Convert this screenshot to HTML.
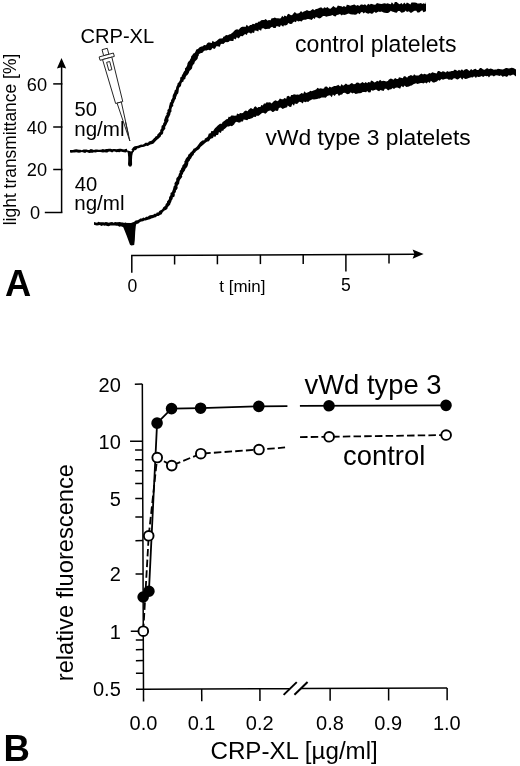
<!DOCTYPE html>
<html><head><meta charset="utf-8"><title>Figure</title>
<style>
html,body{margin:0;padding:0;background:#fff;}
svg{display:block;font-family:"Liberation Sans",Arial,Helvetica,sans-serif;fill:#000;}
</style></head><body>
<svg width="520" height="766" viewBox="0 0 520 766">
<rect width="520" height="766" fill="#fff"/>
<g fill="#000" stroke="none"><path d="M70.0,150.0 L71.7,150.0 L73.0,149.9 L74.6,149.5 L76.3,149.3 L77.5,149.5 L79.0,149.8 L80.2,149.7 L81.9,150.3 L83.5,149.5 L85.1,149.5 L86.7,149.5 L87.9,149.9 L89.2,149.9 L90.8,149.1 L92.7,149.6 L93.8,150.0 L95.5,149.6 L97.2,149.6 L98.2,149.7 L100.0,149.7 L101.7,149.6 L102.8,149.1 L104.5,149.4 L106.2,149.1 L107.2,149.1 L109.0,148.8 L110.6,148.8 L112.1,149.2 L113.4,148.9 L114.8,148.9 L116.5,149.2 L117.9,149.1 L119.5,148.8 L120.9,148.8 L122.7,149.2 L124.2,149.6 L125.5,149.1 L127.1,148.8 L126.9,151.9 L125.3,152.5 L124.1,152.2 L122.6,152.0 L120.9,151.4 L119.5,152.3 L117.9,152.1 L116.5,152.3 L114.8,151.5 L113.5,151.6 L112.1,152.4 L110.7,151.8 L109.0,151.6 L107.3,152.5 L106.3,152.6 L104.6,152.2 L102.9,152.6 L101.8,152.2 L100.1,151.9 L98.2,152.1 L97.3,151.9 L95.5,152.6 L93.8,152.2 L92.8,152.8 L90.9,152.8 L89.3,152.9 L87.9,152.6 L86.7,152.0 L85.1,153.0 L83.5,152.5 L81.9,152.1 L80.3,152.4 L79.0,152.7 L77.5,152.5 L76.3,152.2 L74.6,152.5 L73.0,152.5 L71.7,152.8 L70.0,152.5Z"/><path d="M131.4,149.7 L132.3,148.4 L133.2,147.3 L134.7,146.3 L136.6,146.0 L138.0,145.7 L139.7,144.9 L141.2,144.5 L142.3,144.7 L144.0,143.9 L145.4,142.8 L147.0,142.7 L148.0,142.8 L148.9,141.6 L150.6,141.0 L152.0,140.5 L152.6,139.7 L153.7,138.6 L154.9,137.5 L155.7,136.3 L157.0,136.1 L157.5,134.3 L158.7,133.3 L159.5,132.3 L160.3,131.4 L160.2,129.9 L161.3,128.7 L161.5,126.8 L161.7,125.8 L163.0,124.7 L163.3,123.0 L164.3,121.9 L164.0,120.2 L164.5,118.9 L165.1,117.2 L165.7,115.7 L166.7,114.7 L166.4,113.2 L167.5,111.9 L167.4,110.1 L168.7,108.7 L168.9,107.2 L169.1,106.1 L169.5,104.8 L169.9,102.8 L171.1,101.6 L171.0,100.2 L172.0,98.8 L172.6,97.4 L172.6,95.9 L173.2,94.3 L173.7,93.5 L174.4,92.0 L174.6,90.5 L175.8,89.4 L176.2,87.4 L176.5,86.5 L177.4,84.8 L177.5,83.5 L178.8,82.2 L179.6,80.9 L180.2,79.6 L180.2,77.6 L181.6,76.7 L181.9,75.3 L182.9,73.8 L183.3,72.8 L184.0,71.4 L185.1,70.2 L184.9,68.4 L186.0,67.4 L187.0,65.7 L187.4,64.3 L187.5,63.2 L188.3,61.7 L189.5,60.8 L190.2,59.3 L191.0,58.1 L191.2,56.3 L192.5,55.0 L193.0,53.8 L194.6,52.9 L195.5,51.5 L196.3,49.6 L197.9,48.9 L199.6,47.3 L201.4,46.5 L202.9,46.3 L204.0,45.1 L206.0,45.3 L207.0,43.4 L208.2,42.6 L209.5,42.6 L211.8,43.0 L212.5,40.7 L214.3,41.9 L215.8,41.4 L216.8,40.8 L218.5,39.3 L219.7,38.6 L221.1,38.4 L222.8,38.2 L223.3,36.7 L224.9,36.2 L225.9,34.9 L228.0,35.3 L229.0,34.6 L230.9,34.0 L231.9,33.1 L233.1,32.2 L234.0,30.9 L235.5,29.7 L237.0,29.2 L238.8,29.8 L239.7,28.5 L241.1,27.2 L242.2,26.8 L244.3,26.8 L245.8,26.8 L246.5,24.8 L248.8,26.4 L250.0,25.0 L251.4,25.1 L252.9,23.8 L254.4,24.2 L255.9,22.8 L257.4,23.0 L258.2,21.7 L260.0,21.5 L261.1,20.2 L262.9,20.0 L264.3,20.0 L265.6,18.9 L267.8,20.8 L268.7,20.1 L270.6,20.3 L271.6,18.3 L273.0,18.2 L274.8,17.6 L276.4,18.2 L278.1,18.3 L279.5,18.6 L280.8,18.3 L282.2,15.7 L283.5,17.2 L284.5,15.5 L286.7,16.4 L287.3,14.7 L288.6,13.8 L291.0,15.2 L292.2,15.0 L293.6,13.2 L294.8,12.0 L296.5,13.5 L297.9,13.5 L299.4,12.9 L301.0,10.9 L302.5,12.4 L303.7,11.4 L305.3,11.1 L307.0,10.0 L308.2,10.8 L310.1,11.1 L311.1,10.2 L312.9,8.9 L314.4,10.2 L315.5,9.2 L317.5,8.7 L318.6,8.2 L320.2,7.6 L321.6,7.5 L323.0,8.8 L324.3,7.2 L326.0,7.9 L327.4,7.0 L329.0,8.6 L330.5,8.7 L332.4,6.9 L333.3,5.9 L335.2,7.5 L336.5,7.8 L337.9,5.6 L339.7,6.0 L341.4,6.3 L342.7,7.1 L343.8,6.1 L346.0,6.9 L346.8,4.7 L348.5,5.1 L350.2,5.8 L351.8,5.3 L353.3,4.7 L354.6,4.6 L356.1,5.7 L357.8,5.1 L359.4,5.9 L360.8,4.6 L362.2,4.6 L363.4,5.1 L365.0,4.3 L366.7,5.8 L368.1,3.7 L369.8,4.8 L370.9,3.8 L372.7,4.3 L374.1,4.7 L375.8,4.6 L376.9,3.0 L378.6,3.4 L379.9,3.8 L381.5,4.0 L383.4,3.4 L384.5,3.3 L386.4,3.7 L387.6,3.3 L388.9,3.7 L390.8,4.2 L391.8,2.2 L393.9,4.5 L394.8,2.1 L396.7,2.0 L398.0,3.3 L399.6,4.3 L401.5,2.9 L402.7,4.5 L404.3,2.5 L405.8,4.2 L406.9,2.6 L408.9,3.6 L410.4,4.5 L411.5,2.4 L413.2,2.4 L414.6,2.4 L416.3,2.8 L417.4,3.6 L419.2,3.5 L420.9,3.1 L422.3,4.0 L423.4,3.2 L425.4,4.1 L426.0,2.1 L426.0,11.1 L425.4,11.4 L423.4,12.3 L422.3,10.2 L420.9,10.9 L419.2,12.5 L417.4,12.5 L416.3,10.8 L414.6,10.7 L413.2,11.4 L411.5,12.8 L410.4,12.8 L408.9,11.2 L406.9,11.9 L405.8,10.4 L404.3,12.1 L402.7,12.4 L401.5,12.7 L399.6,11.0 L398.0,10.9 L396.8,12.8 L394.9,12.4 L393.9,12.0 L391.9,11.4 L390.9,10.7 L389.0,12.4 L387.8,12.9 L386.5,12.9 L384.7,12.7 L383.5,12.5 L381.6,11.4 L380.0,12.1 L378.7,11.4 L377.1,12.3 L376.0,13.1 L374.2,11.8 L372.9,13.6 L371.2,13.7 L370.0,13.0 L368.3,13.7 L366.8,13.2 L365.1,12.2 L363.6,13.4 L362.4,12.1 L361.0,12.2 L359.6,14.2 L358.0,13.0 L356.4,14.6 L355.0,14.8 L353.6,14.5 L352.2,14.6 L350.4,14.3 L348.8,13.6 L347.1,14.0 L346.2,14.4 L344.1,15.0 L342.9,14.5 L341.7,15.4 L340.0,14.1 L338.2,14.7 L336.7,15.1 L335.6,16.5 L333.8,16.0 L332.6,14.9 L330.7,15.7 L329.2,16.1 L327.8,16.3 L326.4,16.8 L324.7,16.1 L323.2,16.1 L322.1,16.8 L320.8,18.1 L319.1,18.4 L317.9,17.7 L315.7,17.0 L314.8,19.1 L313.4,17.9 L311.7,19.9 L310.5,19.4 L308.5,19.0 L307.5,19.0 L305.7,19.7 L304.1,19.8 L302.8,19.9 L301.9,21.5 L299.9,21.0 L298.3,21.4 L296.8,20.6 L295.9,22.3 L294.3,21.5 L292.8,22.5 L292.1,23.8 L290.2,23.9 L288.2,23.1 L287.3,24.7 L285.5,25.6 L283.9,25.3 L283.2,26.7 L280.9,25.1 L279.9,27.0 L278.4,26.4 L276.6,26.0 L275.6,28.1 L273.6,27.9 L272.1,26.7 L270.8,27.4 L269.3,29.0 L268.3,28.8 L266.6,29.0 L265.2,29.3 L263.5,28.2 L261.8,28.5 L261.1,30.8 L258.8,29.5 L258.3,31.5 L256.6,30.8 L254.7,30.5 L254.1,32.9 L252.1,32.5 L251.1,33.7 L249.0,32.4 L247.6,33.1 L246.9,34.9 L245.1,34.0 L243.6,35.3 L242.8,36.3 L240.7,35.9 L239.8,36.9 L238.9,38.4 L236.7,37.3 L235.7,39.4 L233.9,38.6 L233.4,41.0 L232.1,41.1 L229.8,40.8 L228.9,41.7 L227.2,42.2 L225.6,42.1 L224.4,43.1 L223.5,43.9 L221.7,43.7 L220.5,44.5 L219.9,46.7 L217.5,46.2 L216.3,46.3 L215.3,48.2 L214.3,48.9 L212.4,48.0 L211.1,50.1 L209.8,50.2 L208.1,49.8 L206.7,50.4 L205.0,50.6 L203.9,51.0 L203.1,52.0 L202.1,52.9 L200.6,53.1 L200.4,53.6 L198.9,54.0 L198.8,55.5 L197.9,56.8 L197.8,58.2 L197.0,59.6 L195.7,60.7 L194.8,61.8 L194.4,63.5 L193.4,64.5 L192.4,65.9 L192.3,67.1 L192.0,68.6 L190.6,70.0 L189.4,70.9 L189.0,72.4 L188.3,73.8 L187.4,75.1 L186.3,75.8 L185.5,77.4 L185.3,78.9 L183.7,79.7 L183.5,81.5 L182.0,82.2 L181.4,83.5 L181.1,85.3 L180.8,86.3 L179.3,87.6 L178.9,88.5 L178.7,90.5 L178.5,91.9 L178.1,93.4 L176.9,94.7 L176.7,95.7 L176.0,97.2 L176.0,98.6 L174.9,99.9 L174.4,101.5 L174.0,102.6 L173.1,104.0 L173.3,106.1 L172.1,107.1 L171.8,108.1 L171.4,109.6 L171.5,111.4 L170.5,112.8 L170.3,114.4 L169.7,115.7 L169.1,116.9 L168.3,118.4 L168.6,120.4 L168.0,121.7 L167.2,123.1 L166.7,124.3 L165.9,125.8 L165.1,127.1 L165.4,128.4 L164.3,129.9 L163.3,131.3 L163.2,133.0 L162.6,134.3 L161.2,135.1 L160.6,136.7 L159.1,137.9 L158.4,138.8 L157.0,139.8 L155.8,141.1 L154.6,142.2 L153.9,143.3 L152.5,144.1 L150.4,144.6 L149.0,145.3 L147.9,145.9 L146.2,145.8 L144.7,146.5 L143.0,147.1 L141.9,147.1 L140.4,147.6 L138.7,148.2 L137.5,148.3 L136.5,149.6 L135.4,150.2 L134.1,150.3 L133.5,151.9Z"/><path d="M94.0,222.0 L95.7,222.5 L97.0,222.7 L98.6,221.8 L99.8,222.3 L101.5,222.2 L103.2,222.2 L104.4,222.5 L105.8,221.9 L107.2,222.3 L108.8,222.7 L110.4,222.3 L112.2,222.0 L113.5,222.7 L115.1,222.1 L116.4,222.3 L118.0,222.2 L119.7,222.0 L121.3,222.6 L122.5,222.4 L124.1,223.1 L125.9,222.4 L126.3,222.9 L125.7,227.5 L125.2,227.4 L123.6,227.0 L122.0,226.8 L121.0,226.2 L119.4,226.7 L117.8,225.7 L116.3,225.7 L115.0,225.5 L113.4,225.6 L112.2,225.6 L110.3,225.6 L108.8,226.3 L107.2,226.1 L105.7,225.6 L104.3,225.8 L103.1,225.3 L101.5,226.1 L99.7,225.1 L98.6,225.2 L97.0,225.5 L95.7,225.3 L94.0,224.8Z"/><path d="M134.5,221.3 L135.8,220.6 L137.5,220.2 L139.0,219.4 L140.3,218.4 L142.0,218.4 L143.3,217.5 L144.7,217.9 L146.1,216.8 L147.8,216.7 L148.9,215.7 L150.1,215.3 L152.0,214.9 L153.3,214.8 L154.4,213.7 L156.1,213.8 L156.8,212.4 L158.4,212.5 L159.3,211.0 L160.6,210.3 L161.7,209.7 L162.6,208.8 L163.3,207.2 L164.4,206.4 L165.4,205.4 L165.7,204.0 L167.0,202.8 L167.0,201.5 L167.9,200.4 L169.0,198.9 L169.1,197.2 L169.7,196.2 L170.5,195.0 L170.5,193.1 L172.0,192.0 L172.3,190.9 L172.9,189.4 L173.3,188.1 L173.7,186.3 L174.7,185.2 L174.4,183.6 L175.2,182.1 L176.2,181.0 L176.2,179.6 L176.5,177.9 L178.0,176.6 L178.6,175.3 L178.8,173.9 L179.8,172.5 L179.6,171.1 L180.8,169.8 L181.3,168.1 L182.1,167.3 L182.5,165.2 L183.6,164.2 L184.5,163.1 L184.3,161.6 L185.1,160.5 L185.6,159.0 L186.7,157.4 L187.8,156.4 L188.4,154.6 L189.5,153.8 L190.7,152.3 L192.0,151.3 L192.9,150.1 L193.5,148.8 L194.9,148.2 L195.9,147.5 L197.0,146.6 L198.1,144.9 L199.0,143.7 L200.1,142.2 L201.1,141.4 L202.3,140.6 L204.3,140.2 L204.9,138.4 L206.0,138.0 L207.7,136.8 L208.3,135.3 L208.7,133.8 L210.8,133.1 L211.0,131.3 L213.2,131.1 L214.2,129.2 L215.2,128.1 L216.1,127.3 L217.5,125.8 L218.4,125.1 L220.0,123.7 L221.9,123.8 L222.6,122.1 L223.5,121.4 L224.9,120.5 L226.3,119.3 L227.8,119.1 L228.6,116.7 L230.1,116.9 L231.2,115.6 L232.7,115.4 L234.7,115.7 L236.5,115.4 L237.0,113.6 L239.2,114.3 L239.9,112.9 L242.0,113.2 L243.2,112.7 L244.1,111.4 L245.8,110.6 L247.7,111.3 L248.4,110.0 L249.6,108.9 L250.9,107.9 L253.1,109.2 L254.3,107.0 L255.5,106.2 L257.4,108.1 L258.4,107.0 L260.4,106.9 L261.3,105.0 L262.8,105.4 L264.0,103.4 L265.8,103.5 L266.5,102.3 L268.3,102.5 L270.1,102.2 L271.6,103.4 L272.8,102.3 L274.0,100.9 L275.8,100.3 L277.2,101.2 L278.5,100.5 L279.9,98.5 L281.7,99.2 L283.3,99.2 L284.3,97.9 L286.3,98.7 L286.8,96.6 L288.3,95.8 L290.2,96.9 L291.2,94.9 L292.6,95.0 L294.0,94.3 L296.2,94.8 L297.3,94.6 L299.0,94.8 L300.6,93.8 L301.5,92.9 L303.3,93.7 L304.4,91.3 L306.0,92.9 L307.5,92.6 L309.2,91.7 L310.4,90.8 L311.8,91.2 L313.4,90.6 L315.0,89.9 L316.4,89.2 L317.5,87.8 L319.1,88.7 L320.9,88.3 L322.2,88.8 L324.0,88.5 L324.8,86.7 L326.8,86.6 L328.5,88.2 L329.6,86.6 L331.2,87.6 L332.7,86.7 L334.2,86.0 L335.6,85.9 L337.2,85.6 L338.2,84.8 L340.2,86.4 L341.6,84.1 L343.1,85.7 L344.8,84.6 L345.9,83.5 L347.5,84.7 L349.3,84.7 L350.5,83.8 L351.9,82.9 L353.7,84.3 L355.3,83.9 L356.3,82.8 L358.1,82.4 L359.6,83.4 L360.9,83.2 L362.3,82.1 L364.3,83.3 L365.7,82.0 L367.1,83.3 L368.3,81.9 L370.3,82.6 L371.0,80.6 L372.6,81.0 L374.5,82.4 L376.0,81.7 L377.0,80.7 L378.7,81.4 L380.0,79.7 L381.8,81.2 L383.2,80.8 L384.7,81.0 L386.2,81.5 L387.8,81.1 L389.0,79.4 L390.8,78.5 L392.1,78.9 L393.5,79.8 L395.1,78.1 L396.8,78.9 L398.1,79.1 L399.0,77.2 L401.0,77.8 L402.7,78.2 L403.9,76.2 L405.3,76.2 L407.1,77.8 L408.2,76.3 L409.6,75.8 L410.9,75.0 L413.0,75.9 L414.1,74.2 L415.7,75.5 L417.1,75.4 L418.7,75.5 L420.3,74.2 L421.4,73.6 L423.0,74.5 L424.6,73.7 L426.2,74.5 L427.9,74.2 L429.1,73.0 L430.7,73.5 L432.3,72.2 L433.8,72.7 L434.9,72.9 L436.6,73.6 L437.9,71.1 L439.2,71.1 L441.3,72.2 L442.7,71.2 L444.0,71.4 L445.9,72.6 L447.1,70.9 L448.5,71.7 L450.2,71.6 L451.7,71.1 L453.2,71.0 L454.8,69.4 L456.3,70.2 L457.5,70.9 L459.0,69.7 L460.3,70.8 L461.9,69.2 L463.4,70.7 L464.8,69.6 L466.7,69.0 L467.7,69.4 L469.4,71.0 L471.1,69.1 L472.6,70.2 L474.0,69.3 L475.7,68.7 L476.9,70.0 L478.4,70.0 L480.0,67.9 L481.2,67.9 L483.2,69.6 L484.9,69.8 L486.2,68.4 L487.8,68.2 L488.8,69.2 L490.5,68.5 L492.3,68.9 L493.8,69.7 L495.2,69.6 L496.7,69.6 L497.9,68.7 L499.4,69.0 L500.8,69.3 L502.8,69.4 L504.0,68.9 L505.9,67.9 L506.8,68.0 L508.8,68.4 L510.1,68.2 L511.3,67.7 L513.2,68.0 L514.7,68.8 L516.0,69.5 L516.0,76.5 L514.7,75.4 L513.2,74.6 L511.3,75.2 L510.1,75.7 L508.8,75.0 L506.9,76.9 L506.0,76.6 L504.0,75.9 L502.9,77.1 L500.9,75.2 L499.5,76.0 L498.0,75.4 L496.7,75.3 L495.2,75.6 L493.9,76.5 L492.4,75.4 L490.6,75.5 L488.9,77.5 L487.9,75.9 L486.4,76.3 L484.9,75.7 L483.3,76.9 L481.4,76.1 L480.2,76.8 L478.5,76.9 L477.0,76.6 L476.0,77.9 L474.1,76.2 L472.8,77.4 L471.3,77.2 L469.5,77.8 L468.0,78.3 L467.0,78.7 L465.1,78.9 L463.5,77.8 L462.3,79.7 L460.4,77.6 L459.2,78.6 L457.8,79.4 L456.6,79.2 L455.0,78.2 L453.4,78.6 L452.0,80.0 L450.4,79.4 L448.7,79.8 L447.3,78.8 L446.0,78.8 L444.2,79.3 L443.0,79.8 L441.4,79.1 L439.7,80.8 L438.3,80.1 L436.9,81.4 L435.4,82.1 L434.4,82.5 L433.0,82.6 L430.9,80.7 L429.7,83.0 L428.1,81.8 L426.7,83.6 L425.0,82.5 L423.5,83.5 L422.0,83.1 L420.8,83.0 L419.0,83.4 L417.5,84.1 L416.0,83.2 L414.7,83.7 L413.4,84.3 L411.7,85.6 L410.3,85.7 L409.0,86.4 L407.7,86.8 L406.3,87.1 L404.6,85.5 L403.3,87.2 L401.4,85.9 L400.1,88.7 L398.6,88.0 L397.2,87.4 L395.6,87.7 L394.0,88.9 L392.5,87.9 L391.3,89.3 L389.5,89.4 L388.2,90.5 L386.3,88.8 L384.8,88.8 L383.6,90.9 L382.0,90.4 L380.4,90.1 L379.1,91.3 L377.4,90.4 L376.1,89.4 L374.6,90.1 L372.9,90.7 L371.3,90.1 L370.6,92.3 L368.7,92.4 L367.2,90.9 L366.1,92.2 L364.6,92.1 L362.7,92.1 L361.3,93.0 L359.9,93.2 L358.6,93.2 L356.7,93.8 L355.6,93.9 L353.9,92.7 L352.4,93.6 L350.7,92.2 L349.6,93.4 L347.8,94.3 L346.4,93.8 L345.0,92.7 L343.2,93.0 L342.1,94.6 L340.4,94.7 L338.9,95.9 L337.5,93.8 L335.9,94.2 L334.7,95.9 L332.9,94.5 L331.8,97.2 L330.0,95.2 L328.7,95.6 L327.3,95.9 L325.7,97.7 L324.5,97.6 L322.6,97.6 L321.5,97.5 L319.7,98.4 L318.4,98.4 L317.2,99.0 L315.6,99.2 L314.0,99.6 L312.2,99.3 L311.1,100.0 L309.8,100.6 L308.2,101.9 L306.7,101.6 L305.6,102.2 L303.7,101.5 L302.7,103.4 L301.2,102.3 L299.2,101.8 L297.9,103.2 L297.0,103.9 L294.8,103.4 L294.0,105.8 L292.2,104.1 L291.3,106.7 L289.9,107.1 L287.7,105.6 L287.1,107.3 L285.4,107.8 L284.1,108.2 L282.7,108.9 L280.7,107.5 L278.9,108.0 L278.1,110.6 L277.1,110.9 L275.1,110.6 L273.8,111.8 L272.4,112.0 L270.8,110.5 L269.0,110.7 L267.6,111.6 L266.9,112.6 L265.4,113.7 L263.3,112.7 L262.0,113.0 L260.8,114.0 L259.3,115.3 L258.1,115.9 L256.7,115.5 L255.7,116.9 L253.8,116.8 L252.5,118.0 L251.0,118.6 L249.6,119.1 L248.5,119.1 L247.2,120.2 L245.1,119.8 L243.6,119.5 L243.0,121.5 L240.9,121.4 L240.2,122.5 L238.3,122.6 L236.8,121.8 L235.2,122.6 L234.1,124.4 L233.1,125.2 L232.0,126.3 L230.4,125.7 L228.9,126.6 L227.2,126.4 L226.0,127.8 L224.9,128.8 L223.9,129.2 L223.3,130.8 L221.7,130.8 L220.9,132.9 L218.9,132.0 L218.4,134.3 L217.7,134.9 L216.3,135.1 L215.5,136.8 L213.4,136.6 L213.1,137.9 L211.3,138.5 L210.3,139.0 L209.7,140.2 L208.4,141.4 L207.3,141.5 L206.1,142.3 L204.6,143.4 L203.5,144.5 L202.6,145.3 L201.4,146.3 L200.5,147.1 L199.5,148.7 L198.3,149.8 L197.0,150.6 L195.8,151.6 L195.2,152.6 L194.1,153.3 L193.6,154.9 L192.4,156.1 L191.8,156.9 L191.1,158.4 L190.3,159.3 L189.7,160.8 L188.4,162.0 L188.3,163.5 L188.0,164.8 L187.5,166.2 L186.7,167.4 L185.3,168.9 L185.2,170.0 L184.2,171.5 L183.2,172.8 L183.0,174.0 L181.9,175.2 L182.3,176.8 L181.4,178.0 L180.2,179.4 L179.5,180.9 L179.3,182.2 L179.1,183.7 L178.0,185.0 L177.4,186.3 L177.7,187.9 L176.9,189.5 L175.9,190.5 L175.9,192.3 L174.7,193.1 L174.8,195.0 L174.3,196.7 L172.7,197.6 L172.7,199.0 L171.7,200.2 L171.2,202.0 L170.5,203.3 L170.2,204.5 L168.9,206.0 L167.8,207.0 L167.4,208.8 L166.2,209.8 L164.5,210.6 L163.4,211.6 L162.5,212.5 L161.7,214.2 L159.9,214.9 L158.6,216.0 L157.1,216.1 L155.7,217.2 L154.2,217.5 L153.2,218.1 L151.3,218.6 L150.0,219.2 L148.8,219.6 L147.1,220.0 L145.5,220.4 L144.3,220.5 L143.1,221.3 L141.4,221.5 L140.0,222.0 L138.8,223.3 L137.5,223.7 L136.5,224.3Z"/><path d="M124.5,149.6 L126.6,150.6 L127.8,153 L128.2,157 L128.2,161 L128,164.2 L128.6,166 L130,166.8 L131.4,166.3 L132.1,164.4 L132,160 L132.2,156 L132.8,153 L134.6,150 L131,151.4 Z"/><path d="M116,222.8 L121,223.2 L123.6,228 L126.6,235.6 L130,244.8 L131.4,245.6 L134.2,244.9 L134.8,240 L135.2,232 L135.8,226 L137,220.8 L131,223 Z"/></g>
<g fill="none" stroke="#000" stroke-width="1.5"><path d="M61.6,212.5 V66" /><path d="M53.2,83.9 H62.4"/><path d="M53.2,127.0 H62.4"/><path d="M53.2,169.5 H62.4"/><path d="M44.8,212.5 H62.4"/><path d="M131.8,272.7 V255.5 L415,254.15"/><path d="M174.6,255.30 V264.50"/><path d="M217.4,255.09 V264.29"/><path d="M260.4,254.89 V264.09"/><path d="M303.2,254.68 V263.88"/><path d="M389,254.27 V263.47"/><path d="M345.9,254.5 V271.5"/></g>
<path d="M61.5,58.0 L56.9,68.5 L61.6,67.2 L66.2,68.5 Z" fill="#000"/>
<path d="M423.6,254.1 L412.6,249.5 L414.4,254.1 L412.6,258.8 Z" fill="#000"/>
<text x="47" y="90.7" font-size="18.2" text-anchor="end" font-weight="normal" >60</text>
<text x="47" y="133.6" font-size="18.2" text-anchor="end" font-weight="normal" >40</text>
<text x="47" y="176.0" font-size="18.2" text-anchor="end" font-weight="normal" >20</text>
<text x="40.2" y="219" font-size="18.2" text-anchor="end" font-weight="normal" >0</text>
<text x="0" y="0" font-size="17.45" text-anchor="middle" font-weight="normal" transform="translate(16.3,139.5) rotate(-90)">light transmittance [%]</text>
<text x="80.5" y="42.7" font-size="20.1" text-anchor="start" font-weight="normal" >CRP-XL</text>
<text x="74.5" y="116.1" font-size="20.2" text-anchor="start" font-weight="normal" >50</text>
<text x="74.2" y="135.5" font-size="20.6" text-anchor="start" font-weight="normal" >ng/ml</text>
<text x="74.8" y="190.9" font-size="20.2" text-anchor="start" font-weight="normal" >40</text>
<text x="74.2" y="210" font-size="20.6" text-anchor="start" font-weight="normal" >ng/ml</text>
<text x="295.1" y="52" font-size="23.05" text-anchor="start" font-weight="normal" >control platelets</text>
<text x="265.5" y="145.4" font-size="22.8" text-anchor="start" font-weight="normal" >vWd type 3 platelets</text>
<text x="132.3" y="291.6" font-size="17.6" text-anchor="middle" font-weight="normal" >0</text>
<text x="345.8" y="290.8" font-size="17.6" text-anchor="middle" font-weight="normal" >5</text>
<text x="219.3" y="292" font-size="16.95" text-anchor="start" font-weight="normal" >t [min]</text>
<text x="5.1" y="295.8" font-size="36.3" text-anchor="start" font-weight="bold" >A</text>
<g transform="translate(104.65,49) rotate(-15.2)" fill="#fff" stroke="#222" stroke-width="0.9">
<rect x="-2.7" y="0" width="5.4" height="6.2"/>
<rect x="-7.4" y="6.2" width="14.8" height="3.5"/>
<path d="M-4.8,9.7 L-3.7,55.5 L3.7,55.5 L4.8,9.7 Z"/>
<rect x="-1.6" y="13.4" width="3.2" height="8.4"/>
<path d="M-2.2,55.5 L0.2,95.4 L2.2,55.5 Z"/>
<path d="M1.0,76 L0.3,90" fill="none"/>
</g>
<g transform="rotate(-0.22 143.5 689.2)"><g fill="none" stroke="#000" stroke-width="1.5"><path d="M143.5,384.1 V689.2 H289.5"/><path d="M301,689.2 H447.1"/><path d="M143.5,689.2 V701.4000000000001"/><path d="M201.7,689.2 V701.4000000000001"/><path d="M259.9,689.2 V701.4000000000001"/><path d="M330.1,689.2 V701.4000000000001"/><path d="M388.6,689.2 V701.4000000000001"/><path d="M447.1,689.2 V701.4000000000001"/><path d="M136.0,384.1 H143.5"/><path d="M131.0,441.3 H143.5"/><path d="M136.0,450.0 H143.5"/><path d="M136.0,459.7 H143.5"/><path d="M136.0,470.7 H143.5"/><path d="M136.0,483.4 H143.5"/><path d="M136.0,498.5 H143.5"/><path d="M136.0,516.9 H143.5"/><path d="M136.0,540.6 H143.5"/><path d="M136.0,574.0 H143.5"/><path d="M131.0,631.2 H143.5"/><path d="M136.0,639.9 H143.5"/><path d="M136.0,649.6 H143.5"/><path d="M136.0,660.6 H143.5"/><path d="M136.0,673.3 H143.5"/><path d="M136.0,689.2 H143.5"/></g>
<g fill="none" stroke="#000" stroke-width="2"><path d="M283.6,695.4000000000001 L296.8,682.7"/><path d="M294.4,695.4000000000001 L307.6,682.7"/></g>
<g fill="none" stroke="#000" stroke-width="1.8">
<path d="M143.5,597.0 L149.3,591.3 L158.1,423.2 L172.6,408.7 L201.7,408.4 L259.9,406.8 L288.5,406.7"/>
<path d="M301,406.5 L447.1,406.5"/>
<path d="M143.5,631.2 L149.3,535.8 L158.1,457.6 L172.6,465.7 L201.7,453.9 L259.9,450.0 L286,448.0" stroke-dasharray="7.5 3.2"/>
<path d="M301,437.7 L330.1,437.5 L447.1,436.2" stroke-dasharray="7.5 3.2"/>
</g>
<circle cx="143.5" cy="597.0" r="5.8" fill="#000"/>
<circle cx="149.3" cy="591.3" r="5.8" fill="#000"/>
<circle cx="158.1" cy="423.2" r="5.8" fill="#000"/>
<circle cx="172.6" cy="408.7" r="5.8" fill="#000"/>
<circle cx="201.7" cy="408.4" r="5.8" fill="#000"/>
<circle cx="259.9" cy="406.8" r="5.8" fill="#000"/>
<circle cx="330.1" cy="406.5" r="5.8" fill="#000"/>
<circle cx="447.1" cy="406.5" r="5.8" fill="#000"/>
<circle cx="143.5" cy="631.2" r="4.85" fill="#fff" stroke="#000" stroke-width="1.9"/>
<circle cx="149.3" cy="535.8" r="4.85" fill="#fff" stroke="#000" stroke-width="1.9"/>
<circle cx="158.1" cy="457.6" r="4.85" fill="#fff" stroke="#000" stroke-width="1.9"/>
<circle cx="172.6" cy="465.7" r="4.85" fill="#fff" stroke="#000" stroke-width="1.9"/>
<circle cx="201.7" cy="453.9" r="4.85" fill="#fff" stroke="#000" stroke-width="1.9"/>
<circle cx="259.9" cy="450.0" r="4.85" fill="#fff" stroke="#000" stroke-width="1.9"/>
<circle cx="330.1" cy="437.5" r="4.85" fill="#fff" stroke="#000" stroke-width="1.9"/>
<circle cx="447.1" cy="436.2" r="4.85" fill="#fff" stroke="#000" stroke-width="1.9"/></g>
<text x="120.8" y="391.53440382340995" font-size="20" text-anchor="end" font-weight="normal" >20</text>
<text x="120.8" y="448.7" font-size="20" text-anchor="end" font-weight="normal" >10</text>
<text x="120.8" y="505.86559617659003" font-size="20" text-anchor="end" font-weight="normal" >5</text>
<text x="120.8" y="581.43440382341" font-size="20" text-anchor="end" font-weight="normal" >2</text>
<text x="120.8" y="638.6" font-size="20" text-anchor="end" font-weight="normal" >1</text>
<text x="120.8" y="695.7655961765901" font-size="20" text-anchor="end" font-weight="normal" >0.5</text>
<text x="143.5" y="729.8" font-size="20" text-anchor="middle" font-weight="normal" >0.0</text>
<text x="201.6" y="729.8" font-size="20" text-anchor="middle" font-weight="normal" >0.1</text>
<text x="259.7" y="729.8" font-size="20" text-anchor="middle" font-weight="normal" >0.2</text>
<text x="330.0" y="729.8" font-size="20" text-anchor="middle" font-weight="normal" >0.8</text>
<text x="388.2" y="729.8" font-size="20" text-anchor="middle" font-weight="normal" >0.9</text>
<text x="446.8" y="729.8" font-size="20" text-anchor="middle" font-weight="normal" >1.0</text>
<text x="0" y="0" font-size="23.7" text-anchor="middle" font-weight="normal" transform="translate(72.8,572.6) rotate(-90)">relative fluorescence</text>
<text x="210.5" y="759" font-size="24.15" text-anchor="start" font-weight="normal" >CRP-XL [µg/ml]</text>
<text x="304.5" y="394" font-size="27.4" text-anchor="start" font-weight="normal" >vWd type 3</text>
<text x="343" y="464.5" font-size="27.4" text-anchor="start" font-weight="normal" >control</text>
<text x="3.5" y="760.9" font-size="36.6" text-anchor="start" font-weight="bold" >B</text>
</svg>
</body></html>
